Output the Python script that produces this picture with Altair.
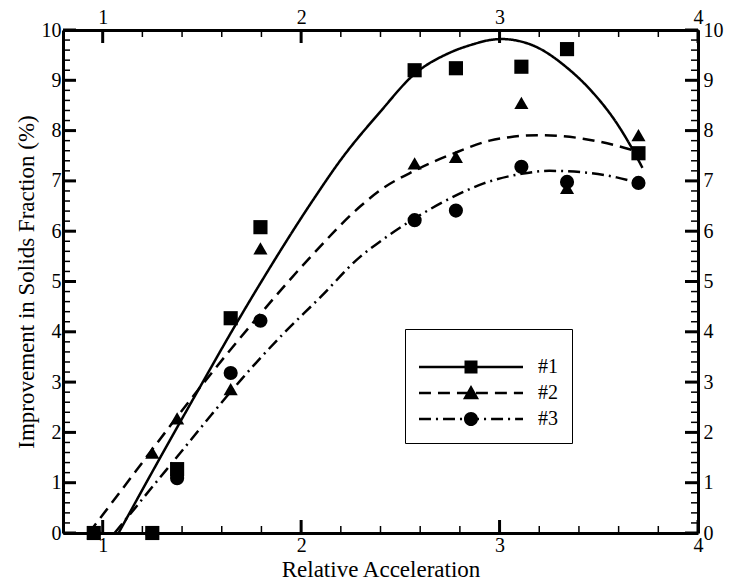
import altair as alt
import pandas as pd

# ---- data ----
series_names = ["#1", "#2", "#3"]
x_pts = [0.955, 1.25, 1.375, 1.645, 1.795, 2.572, 2.78, 3.11, 3.34, 3.70]
sq_y = [0, 0, 1.27, 4.27, 6.08, 9.2, 9.24, 9.27, 9.62, 7.55]
tri_y = [0, 1.6, 2.28, 2.86, 5.66, 7.35, 7.48, 8.55, 6.86, 7.91]
cir_y = [0, 0, 1.09, 3.18, 4.22, 6.22, 6.41, 7.28, 6.98, 6.96]

c1_x = [1.08, 1.29, 1.5, 1.655, 1.8, 2.06, 2.2, 2.4, 2.57, 2.75, 2.87, 2.95, 3.01, 3.17, 3.34, 3.46, 3.59, 3.66, 3.72]
c1_y = [0, 1.5, 2.97, 4.04, 5.0, 6.62, 7.42, 8.38, 9.12, 9.55, 9.72, 9.8, 9.82, 9.69, 9.25, 8.8, 8.15, 7.7, 7.26]
c2_x = [0.93, 1.1, 1.257, 1.5, 1.8, 2.05, 2.3, 2.4, 2.57, 2.79, 2.95, 3.05, 3.2, 3.42, 3.59, 3.68]
c2_y = [0, 0.88, 1.7, 2.94, 4.38, 5.5, 6.5, 6.82, 7.2, 7.58, 7.8, 7.87, 7.91, 7.84, 7.7, 7.6]
c3_x = [1.06, 1.164, 1.257, 1.37, 1.55, 1.7, 1.9, 2.1, 2.3, 2.4, 2.57, 2.75, 2.92, 3.11, 3.25, 3.42, 3.59, 3.7]
c3_y = [0, 0.5, 0.95, 1.49, 2.36, 3.06, 3.92, 4.7, 5.5, 5.8, 6.25, 6.65, 6.95, 7.14, 7.2, 7.17, 7.07, 6.96]

x_major = [1, 2, 3, 4]
x_minor = [1.2, 1.4, 1.6, 1.8, 2.2, 2.4, 2.6, 2.8, 3.2, 3.4, 3.6, 3.8]
y_major = [0, 1, 2, 3, 4, 5, 6, 7, 8, 9, 10]
y_minor = [0.2, 0.4, 0.6, 0.8, 1.2, 1.4, 1.6, 1.8, 2.2, 2.4, 2.6, 2.8, 3.2, 3.4, 3.6, 3.8,
           4.2, 4.4, 4.6, 4.8, 5.2, 5.4, 5.6, 5.8, 6.2, 6.4, 6.6, 6.8, 7.2, 7.4, 7.6, 7.8,
           8.2, 8.4, 8.6, 8.8, 9.2, 9.4, 9.6, 9.8]

pts = pd.DataFrame({
    "x": x_pts * 3,
    "y": sq_y + tri_y + cir_y,
    "series": [series_names[0]] * len(x_pts) + [series_names[1]] * len(x_pts) + [series_names[2]] * len(x_pts),
})
curves = pd.DataFrame({
    "x": c1_x + c2_x + c3_x,
    "y": c1_y + c2_y + c3_y,
    "series": [series_names[0]] * len(c1_x) + [series_names[1]] * len(c2_x) + [series_names[2]] * len(c3_x),
})

FONT = "Times New Roman, Liberation Serif, DejaVu Serif, serif"
W, H = 635, 503
MAJ, MIN = 13, 7
xs = alt.Scale(domain=[0.8, 4], nice=False, zero=False)
ys = alt.Scale(domain=[0, 10], nice=False, zero=False)
dash_range = [[1, 0], [12, 7], [12, 5, 2, 5]]


def lab_axis(orient, values, title=None, pad=2):
    kw = dict(orient=orient, values=values, grid=False, ticks=False,
              domain=True, domainColor="black", domainWidth=3,
              labelFont=FONT, labelFontSize=20, labelColor="black",
              labelPadding=pad, labelFlush=False, labelOverlap=False, labelAngle=0)
    if title:
        kw.update(title=title, titleFont=FONT, titleFontSize=23, titleFontWeight="normal",
                  titleColor="black", titlePadding=3)
    else:
        kw.update(title=None)
    return alt.Axis(**kw)


# inward tick marks drawn from the tick values through the scales
xt_major = pd.DataFrame({"xv": x_major})
xt_minor = pd.DataFrame({"xv": x_minor})
yt_major = pd.DataFrame({"yv": y_major})
yt_minor = pd.DataFrame({"yv": y_minor})


def xticks(df, length, width, side):
    yc = H - length / 2 if side == "bottom" else length / 2
    return alt.Chart(df).mark_tick(color="black", opacity=1, thickness=width, size=length).encode(
        x=alt.X("xv:Q", scale=xs, axis=None), y=alt.value(yc))


def yticks(df, length, width, side):
    xc = length / 2 if side == "left" else W - length / 2
    return alt.Chart(df).mark_tick(color="black", opacity=1, thickness=width, size=length).encode(
        y=alt.Y("yv:Q", scale=ys, axis=None), x=alt.value(xc))


tick_layers = [
    xticks(xt_major, MAJ, 3, "bottom"), xticks(xt_minor, MIN, 1.5, "bottom"),
    xticks(xt_major, MAJ, 3, "top"), xticks(xt_minor, MIN, 1.5, "top"),
    yticks(yt_major, MAJ, 3, "left"), yticks(yt_minor, MIN, 1.5, "left"),
    yticks(yt_major, MAJ, 3, "right"), yticks(yt_minor, MIN, 1.5, "right"),
]

lines = alt.Chart(curves).mark_line(color="black", strokeWidth=2.5, interpolate="monotone").encode(
    x=alt.X("x:Q", scale=xs, axis=lab_axis("bottom", x_major, "Relative Acceleration", 2)),
    y=alt.Y("y:Q", scale=ys, axis=lab_axis("left", y_major, "Improvement in Solids Fraction (%)", 2)),
    strokeDash=alt.StrokeDash("series:N", scale=alt.Scale(domain=series_names, range=dash_range), legend=None),
    detail="series:N",
)

points = alt.Chart(pts).mark_point(filled=True, color="black", opacity=1, size=200).encode(
    x=alt.X("x:Q", scale=xs, axis=lab_axis("top", x_major, None, 3)),
    y=alt.Y("y:Q", scale=ys, axis=lab_axis("right", y_major, None, 5)),
    shape=alt.Shape("series:N", scale=alt.Scale(domain=series_names, range=["square", "triangle-up", "circle"]), legend=None),
)

# legend symbols: line (as filled thin bars, with dash pattern) + marker, unit box -1..1
T = 0.024
legend_paths = [
    f"M-1,-{T}H1V{T}H-1Z"
    "M-0.125,-0.125H0.125V0.125H-0.125Z",
    f"M-1,-{T}H-0.77V{T}H-1Z M-0.635,-{T}H-0.405V{T}H-0.635Z M-0.27,-{T}H-0.04V{T}H-0.27Z "
    f"M0.095,-{T}H0.325V{T}H0.095Z M0.46,-{T}H0.69V{T}H0.46Z M0.825,-{T}H1V{T}H0.825Z "
    "M0,-0.155L0.155,0.12H-0.155Z",
    f"M-1,-{T}H-0.77V{T}H-1Z M-0.674,-{T}H-0.634V{T}H-0.674Z M-0.538,-{T}H-0.308V{T}H-0.538Z "
    f"M-0.212,-{T}H-0.172V{T}H-0.212Z M-0.076,-{T}H0.154V{T}H-0.076Z M0.25,-{T}H0.29V{T}H0.25Z "
    f"M0.386,-{T}H0.616V{T}H0.386Z M0.712,-{T}H0.752V{T}H0.712Z M0.848,-{T}H1V{T}H0.848Z "
    "M-0.135,0A0.135,0.135,0,1,1,0.135,0A0.135,0.135,0,1,1,-0.135,0Z",
]
SYM = 10816
leg_layer = alt.Chart(pts).transform_filter("false").mark_point(
    filled=True, color="black", opacity=1, size=SYM, strokeWidth=0
).encode(
    x=alt.X("x:Q", scale=xs, axis=None),
    y=alt.Y("y:Q", scale=ys, axis=None),
    shape=alt.Shape("series:N", scale=alt.Scale(domain=series_names, range=legend_paths),
                    legend=alt.Legend(orient="none", legendX=342, legendY=299, title=" ",
                                      titleFontSize=12, titlePadding=2, padding=14,
                                      strokeColor="black", fillColor="white",
                                      labelFont=FONT, labelFontSize=20, labelColor="black",
                                      labelOffset=15, clipHeight=20, rowPadding=6,
                                      symbolSize=SYM, symbolFillColor="black",
                                      symbolStrokeWidth=0, symbolOpacity=1)),
)

chart = alt.layer(*tick_layers, lines, points, leg_layer).resolve_scale(
    shape="independent"
).resolve_axis(x="independent", y="independent").properties(
    width=W, height=H,
    autosize=alt.AutoSizeParams(type="none"),
    padding={"left": 63, "top": 30, "right": 31, "bottom": 50},
    background="white",
)

chart.save("out.html", embed_options={"renderer": "svg", "actions": False})
